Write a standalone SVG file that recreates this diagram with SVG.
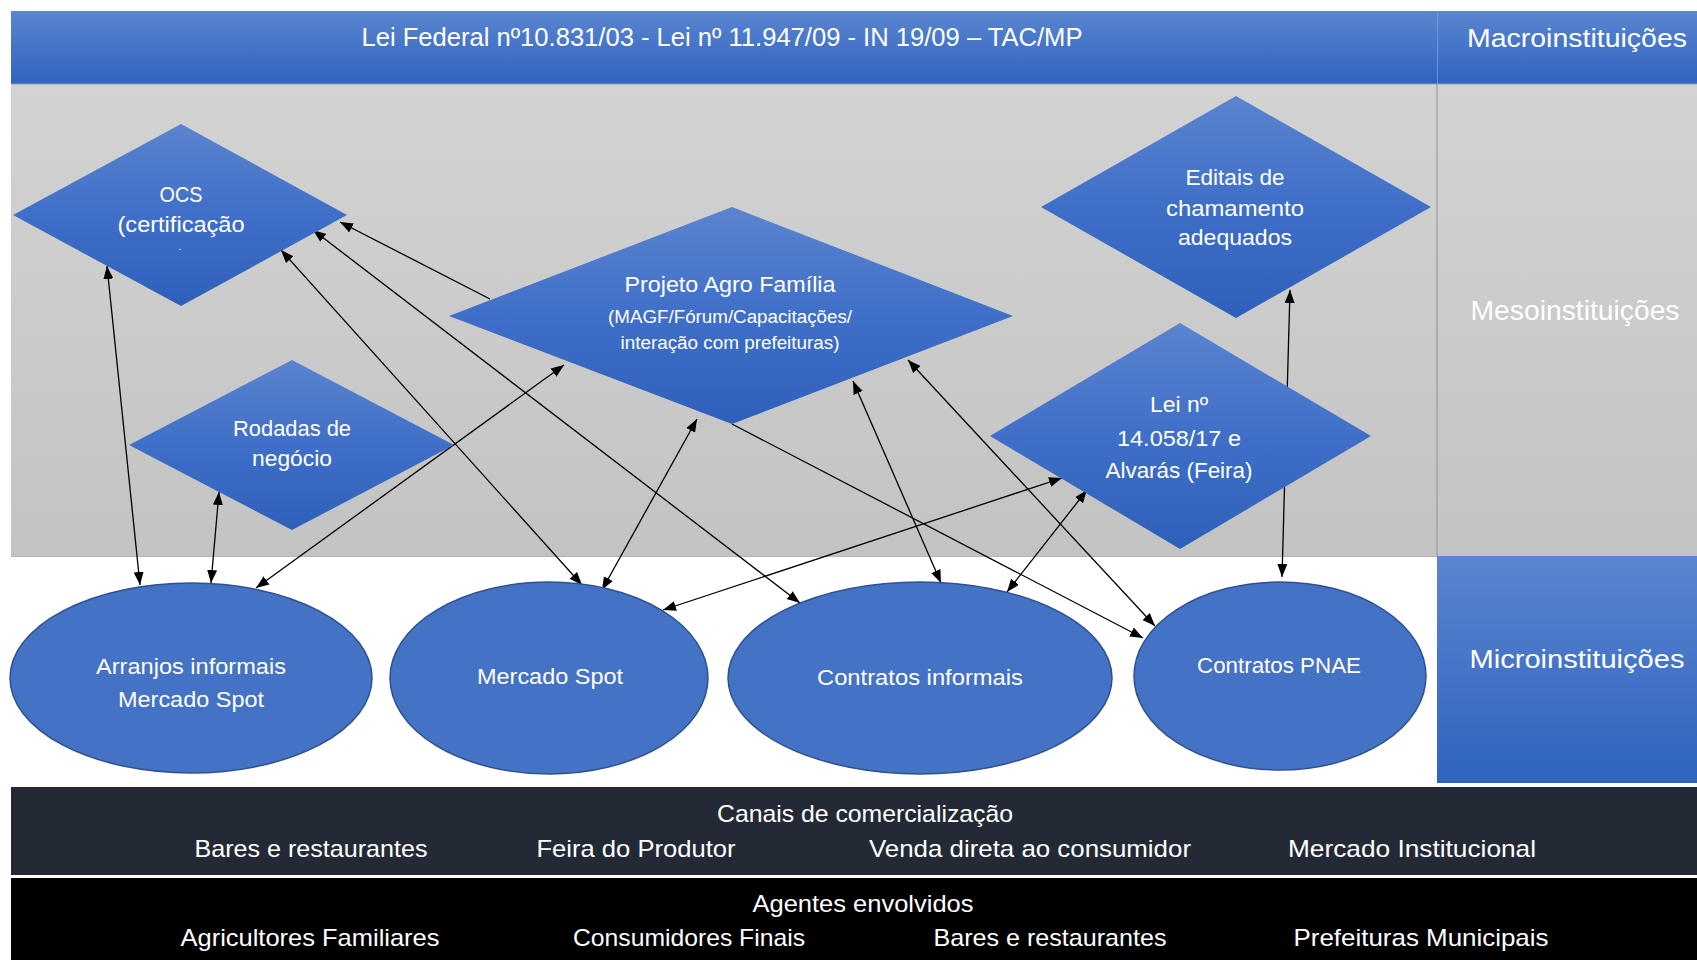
<svg xmlns="http://www.w3.org/2000/svg" width="1697" height="960" viewBox="0 0 1697 960">
<defs>
<linearGradient id="gBlue" x1="0" y1="0" x2="0" y2="1"><stop offset="0" stop-color="#5b84cf"/><stop offset="0.5" stop-color="#3f6fc8"/><stop offset="1" stop-color="#2e60bb"/></linearGradient>
<linearGradient id="gBand" x1="0" y1="0" x2="0" y2="1"><stop offset="0" stop-color="#5a85d0"/><stop offset="1" stop-color="#3063bf"/></linearGradient>
<linearGradient id="gGray" x1="0" y1="0" x2="0" y2="1"><stop offset="0" stop-color="#d3d3d3"/><stop offset="1" stop-color="#c3c3c3"/></linearGradient>
<marker id="ah" markerUnits="userSpaceOnUse" markerWidth="14" markerHeight="12" viewBox="0 0 14 12" refX="13" refY="6" orient="auto-start-reverse"><path d="M0,1 L13,6 L0,11 z" fill="#000"/></marker>
</defs>
<style>
.t{font-family:"Liberation Sans",Arial,sans-serif;fill:#ffffff;text-anchor:middle;}
.n{font-size:22px;}
.s{font-size:18px;}
.h{font-size:25px;}
.c{font-size:24px;}
.dia{fill:url(#gBlue);}
.ell{fill:#4472c4;stroke:#2f528f;stroke-width:1.5;}
.con line{stroke:#000;stroke-width:1.3;fill:none;}
.bi{marker-start:url(#ah);marker-end:url(#ah);}
.uni{marker-end:url(#ah);}
</style>
<rect width="1697" height="960" fill="#ffffff"/>
<g id="background">
<rect x="11" y="84" width="1426" height="473" fill="url(#gGray)"/>
<line x1="11" y1="556.5" x2="1437" y2="556.5" stroke="#b4b4b4" stroke-width="1"/>
<rect x="1437" y="84" width="260" height="473" fill="url(#gGray)"/>
<line x1="1437" y1="84" x2="1437" y2="557" stroke="#9a9a9a" stroke-width="1.2"/>
</g>
<g id="macro">
<rect x="11" y="11" width="1686" height="73" fill="url(#gBand)"/>
<line x1="11" y1="84" x2="1697" y2="84" stroke="#8f9fbf" stroke-width="1"/>
<line x1="1437.5" y1="11" x2="1437.5" y2="84" stroke="#6f93d6" stroke-width="1"/>
<text class="t h" x="722" y="46" textLength="721" lengthAdjust="spacingAndGlyphs">Lei Federal nº10.831/03 - Lei nº 11.947/09 - IN 19/09 – TAC/MP</text>
<text class="t h" x="1577" y="47" textLength="220" lengthAdjust="spacingAndGlyphs">Macroinstituições</text>
</g>
<g id="meso-label">
<text class="t" x="1575" y="320" font-size="28" textLength="209" lengthAdjust="spacingAndGlyphs">Mesoinstituições</text>
</g>
<g id="micro-label">
<rect x="1437" y="556" width="260" height="227" fill="url(#gBand)"/>
<text class="t h" x="1577" y="668" textLength="215" lengthAdjust="spacingAndGlyphs">Microinstituições</text>
</g>
<g id="connectors" class="con">
<line class="bi" x1="107" y1="266" x2="140" y2="585"/>
<line class="bi" x1="219" y1="492" x2="211" y2="583"/>
<line class="bi" x1="564" y1="365" x2="256" y2="588"/>
<line class="bi" x1="281" y1="250" x2="582" y2="585"/>
<line class="bi" x1="313" y1="230" x2="800" y2="603"/>
<line class="uni" x1="490" y1="299" x2="340" y2="222"/>
<line class="bi" x1="697" y1="419" x2="602" y2="590"/>
<line class="bi" x1="853" y1="381" x2="941" y2="583"/>
<line class="bi" x1="908" y1="360" x2="1155" y2="626"/>
<line class="uni" x1="732" y1="424" x2="1143" y2="638"/>
<line class="bi" x1="1062" y1="478" x2="663" y2="610"/>
<line class="bi" x1="1087" y1="490" x2="1007" y2="592"/>
<line class="bi" x1="1290" y1="290" x2="1282" y2="577"/>
</g>
<g id="ocs">
<polygon class="dia" points="181,124 347,215 181,306 13,215"/>
<text class="t n" x="181" y="202" textLength="43" lengthAdjust="spacingAndGlyphs">OCS</text>
<text class="t n" x="181" y="232" textLength="127" lengthAdjust="spacingAndGlyphs">(certificação</text>
<text class="t" x="180" y="250" font-size="10">.</text>
</g>
<g id="projeto">
<polygon class="dia" points="732,207 1013,316 732,424 449,316"/>
<text class="t n" x="730" y="292" textLength="211" lengthAdjust="spacingAndGlyphs">Projeto Agro Família</text>
<text class="t s" x="730" y="323" textLength="244" lengthAdjust="spacingAndGlyphs">(MAGF/Fórum/Capacitações/</text>
<text class="t s" x="730" y="349" textLength="219" lengthAdjust="spacingAndGlyphs">interação com prefeituras)</text>
</g>
<g id="editais">
<polygon class="dia" points="1236,96 1431,207 1236,318 1041,207"/>
<text class="t n" x="1235" y="185" textLength="99" lengthAdjust="spacingAndGlyphs">Editais de</text>
<text class="t n" x="1235" y="216" textLength="138" lengthAdjust="spacingAndGlyphs">chamamento</text>
<text class="t n" x="1235" y="245" textLength="114" lengthAdjust="spacingAndGlyphs">adequados</text>
</g>
<g id="rodadas">
<polygon class="dia" points="292,360 454,445 292,530 129,445"/>
<text class="t n" x="292" y="436" textLength="118" lengthAdjust="spacingAndGlyphs">Rodadas de</text>
<text class="t n" x="292" y="466" textLength="80" lengthAdjust="spacingAndGlyphs">negócio</text>
</g>
<g id="lei">
<polygon class="dia" points="1180,323 1371,436 1180,549 990,436"/>
<text class="t n" x="1179" y="412" textLength="58" lengthAdjust="spacingAndGlyphs">Lei nº</text>
<text class="t n" x="1179" y="446" textLength="124" lengthAdjust="spacingAndGlyphs">14.058/17 e</text>
<text class="t n" x="1179" y="478" textLength="147" lengthAdjust="spacingAndGlyphs">Alvarás (Feira)</text>
</g>
<g id="arranjos">
<ellipse class="ell" cx="191" cy="678" rx="181" ry="95"/>
<text class="t n" x="191" y="674" textLength="190" lengthAdjust="spacingAndGlyphs">Arranjos informais</text>
<text class="t n" x="191" y="707" textLength="146" lengthAdjust="spacingAndGlyphs">Mercado Spot</text>
</g>
<g id="mercado-spot">
<ellipse class="ell" cx="549" cy="678" rx="159" ry="96"/>
<text class="t n" x="550" y="684" textLength="146" lengthAdjust="spacingAndGlyphs">Mercado Spot</text>
</g>
<g id="contratos-informais">
<ellipse class="ell" cx="920" cy="678" rx="192" ry="96"/>
<text class="t n" x="920" y="685" textLength="206" lengthAdjust="spacingAndGlyphs">Contratos informais</text>
</g>
<g id="contratos-pnae">
<ellipse class="ell" cx="1280" cy="676" rx="146" ry="94"/>
<text class="t n" x="1279" y="673" textLength="164" lengthAdjust="spacingAndGlyphs">Contratos PNAE</text>
</g>
<g id="canais">
<rect x="11" y="787" width="1686" height="88" fill="#232a35"/>
<text class="t c" x="865" y="822" textLength="296" lengthAdjust="spacingAndGlyphs">Canais de comercialização</text>
<text class="t c" x="311" y="857" textLength="233" lengthAdjust="spacingAndGlyphs">Bares e restaurantes</text>
<text class="t c" x="636" y="857" textLength="199" lengthAdjust="spacingAndGlyphs">Feira do Produtor</text>
<text class="t c" x="1030" y="857" textLength="322" lengthAdjust="spacingAndGlyphs">Venda direta ao consumidor</text>
<text class="t c" x="1412" y="857" textLength="248" lengthAdjust="spacingAndGlyphs">Mercado Institucional</text>
</g>
<g id="agentes">
<rect x="11" y="878" width="1686" height="82" fill="#000000"/>
<text class="t c" x="863" y="912" textLength="221" lengthAdjust="spacingAndGlyphs">Agentes envolvidos</text>
<text class="t c" x="310" y="946" textLength="259" lengthAdjust="spacingAndGlyphs">Agricultores Familiares</text>
<text class="t c" x="689" y="946" textLength="232" lengthAdjust="spacingAndGlyphs">Consumidores Finais</text>
<text class="t c" x="1050" y="946" textLength="233" lengthAdjust="spacingAndGlyphs">Bares e restaurantes</text>
<text class="t c" x="1421" y="946" textLength="255" lengthAdjust="spacingAndGlyphs">Prefeituras Municipais</text>
</g>
</svg>
